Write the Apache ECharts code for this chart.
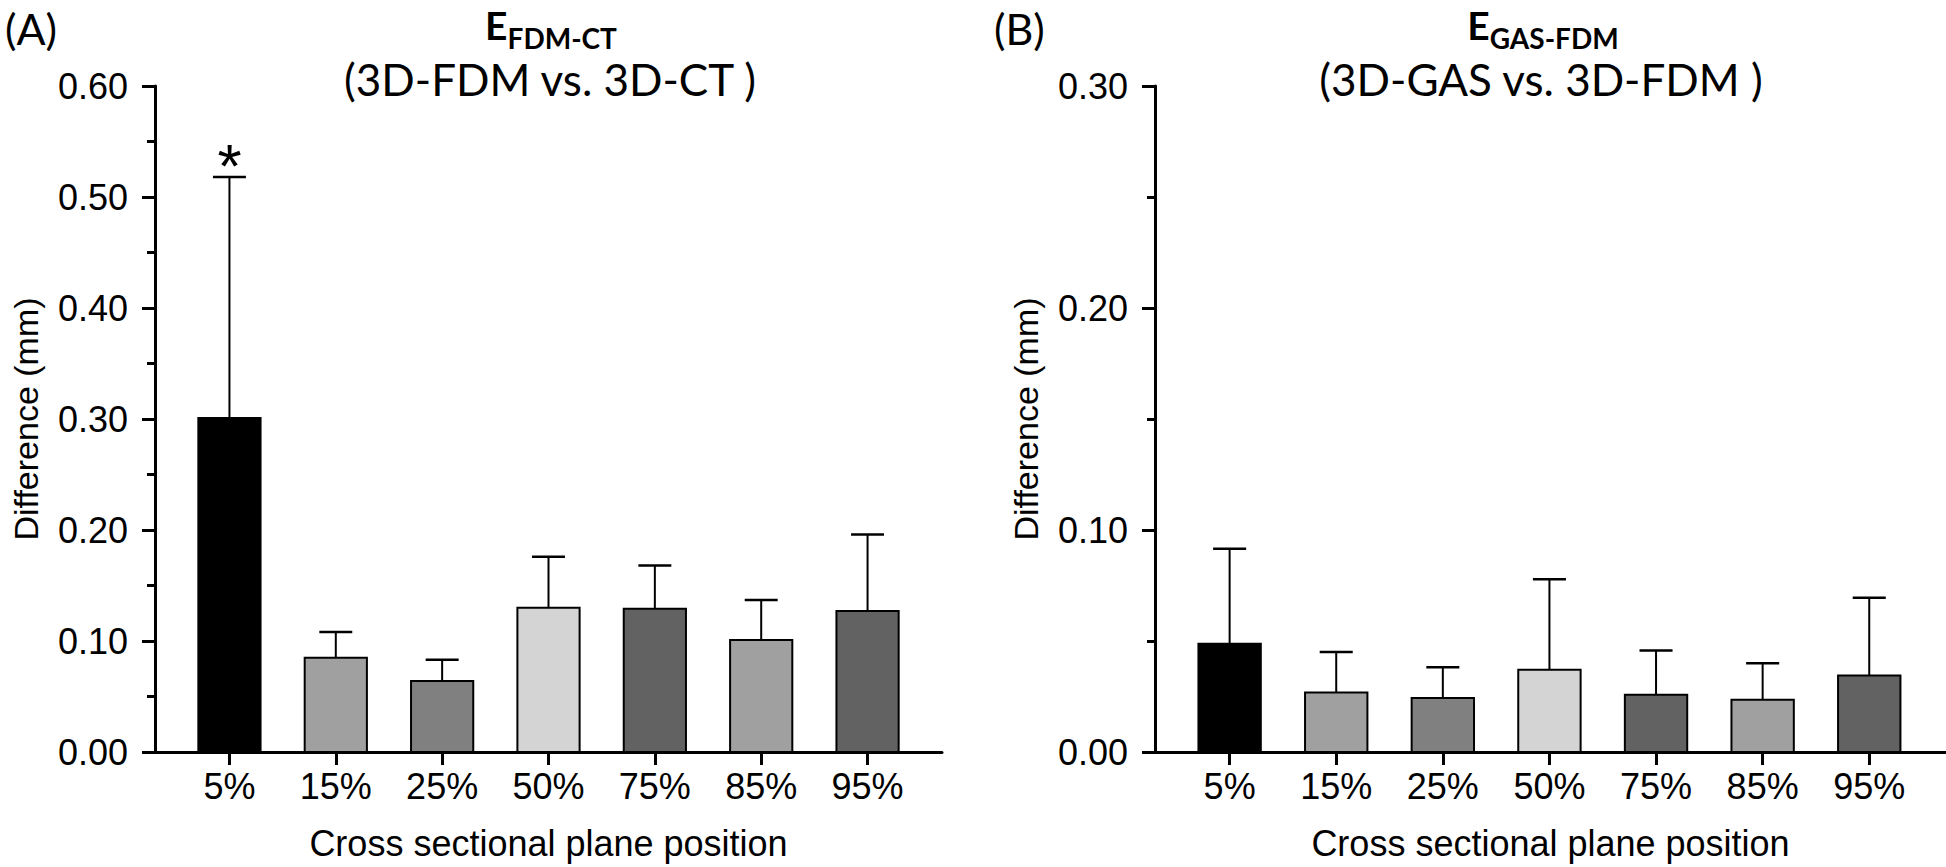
<!DOCTYPE html>
<html>
<head>
<meta charset="utf-8">
<script src="https://cdn.jsdelivr.net/npm/echarts@6/dist/echarts.min.js"></script>
<style>
html,body{margin:0;padding:0;background:#fff;}
#chart{width:1946px;height:867px;}
</style>
</head>
<body>
<div id="chart"></div>
<script>
// ---- data ----
const categories = ['5%', '15%', '25%', '50%', '75%', '85%', '95%'];
const barColors = ['#000000', '#a0a0a0', '#808080', '#d4d4d4', '#626262', '#a0a0a0', '#626262'];

// Panel A: E FDM-CT (3D-FDM vs. 3D-CT)
const meanA = [0.301, 0.085, 0.064, 0.130, 0.129, 0.101, 0.127];
const upperA = [0.518, 0.108, 0.083, 0.176, 0.168, 0.137, 0.196];
const sigA = ['*', '', '', '', '', '', ''];
const ticksA = [0, 0.1, 0.2, 0.3, 0.4, 0.5, 0.6];

// Panel B: E GAS-FDM (3D-GAS vs. 3D-FDM)
const meanB = [0.0488, 0.0268, 0.0243, 0.0370, 0.0258, 0.0235, 0.0345];
const upperB = [0.0915, 0.0450, 0.0382, 0.0778, 0.0457, 0.0400, 0.0695];
const sigB = ['', '', '', '', '', '', ''];
const ticksB = [0, 0.1, 0.2, 0.3];

const yName = 'Difference (mm)';
const xName = 'Cross sectional plane position';

// ---- chart ----
const chart = echarts.init(document.getElementById('chart'), null, {renderer: 'svg'});
const catIdx = categories.map((c, i) => i);
const numFont = 'Liberation Sans, Arial, sans-serif';
const titleFont = 'Lato, Noto Sans, sans-serif';

function rows(mean, upper) {
  return mean.map((m, i) => [i, m, upper[i]]);
}

function makeRender(colors, sig) {
  return function (params, api) {
    const i = api.value(0), v = api.value(1), top = api.value(2);
    const base = api.coord([i, 0]);
    const p = api.coord([i, v]);
    const e = api.coord([i, top]);
    const unit = api.size([1, 0])[0];
    const bw = unit * 0.585, cw = unit * 0.31;
    const children = [
      {type: 'line', shape: {x1: p[0], y1: p[1], x2: e[0], y2: e[1]}, style: {stroke: '#000', lineWidth: 2}},
      {type: 'line', shape: {x1: e[0] - cw / 2, y1: e[1], x2: e[0] + cw / 2, y2: e[1]}, style: {stroke: '#000', lineWidth: 2.5}},
      {type: 'rect', shape: {x: base[0] - bw / 2, y: p[1], width: bw, height: base[1] - p[1]},
        style: {fill: colors[params.dataIndex], stroke: '#000', lineWidth: 2}}
    ];
    const s = sig[params.dataIndex];
    if (s) {
      children.push({type: 'text', x: e[0], y: e[1] - 12,
        style: {text: s, fill: '#000', font: '62px ' + numFont, align: 'center', verticalAlign: 'middle'}});
    }
    return {type: 'group', children: children};
  };
}

function yAxis(gridIndex, max) {
  return {
    type: 'value', gridIndex: gridIndex, min: 0, max: max, interval: 0.1,
    name: yName, nameLocation: 'middle', nameGap: 112,
    nameTextStyle: {fontFamily: numFont, fontSize: 34, color: '#000'},
    axisLine: {show: true, onZero: false, lineStyle: {color: '#000', width: 3}},
    axisTick: {show: true, length: 13, lineStyle: {color: '#000', width: 3}},
    minorTick: {show: true, splitNumber: 2, length: 8, lineStyle: {color: '#000', width: 3}},
    splitLine: {show: false},
    axisLabel: {fontFamily: numFont, fontSize: 36, color: '#000', margin: 27,
      formatter: v => v.toFixed(2)}
  };
}

function xAxis(gridIndex, max) {
  return {
    type: 'value', gridIndex: gridIndex, min: -0.7, max: max,
    name: xName, nameLocation: 'middle', nameGap: 73,
    nameTextStyle: {fontFamily: numFont, fontSize: 36, color: '#000'},
    axisLine: {show: true, lineStyle: {color: '#000', width: 3}},
    axisTick: {show: true, customValues: catIdx, length: 13, lineStyle: {color: '#000', width: 3}},
    splitLine: {show: false},
    axisLabel: {customValues: catIdx, fontFamily: numFont, fontSize: 36, color: '#000', margin: 16,
      formatter: v => categories[Math.round(v)]}
  };
}

const richTitle = {
  e: {fontFamily: titleFont, fontSize: 39, fontWeight: 'bold', lineHeight: 39, verticalAlign: 'top', color: '#000'},
  s: {fontFamily: titleFont, fontSize: 28, fontWeight: 'bold', lineHeight: 28, verticalAlign: 'top', padding: [19, 0, 0, 0], color: '#000'}
};

const option = {
  backgroundColor: '#fff',
  animation: false,
  title: [
    {text: '(A)', left: 0, top: 2, textStyle: {fontFamily: titleFont, fontSize: 43, lineHeight: 43, fontWeight: 'normal', color: '#000'}},
    {text: '(B)', left: 989, top: 2, textStyle: {fontFamily: titleFont, fontSize: 43, lineHeight: 43, fontWeight: 'normal', color: '#000'}},
    {text: '{e|E}{s|FDM-CT}', left: 546, top: 0, textAlign: 'center', textStyle: {rich: richTitle}},
    {text: '(3D-FDM vs. 3D-CT )', left: 545, top: 52, textAlign: 'center',
      textStyle: {fontFamily: titleFont, fontSize: 44, fontWeight: 'normal', lineHeight: 44, color: '#000'}},
    {text: '{e|E}{s|GAS-FDM}', left: 1538, top: 0, textAlign: 'center', textStyle: {rich: richTitle}},
    {text: '(3D-GAS vs. 3D-FDM )', left: 1536, top: 52, textAlign: 'center',
      textStyle: {fontFamily: titleFont, fontSize: 44, fontWeight: 'normal', lineHeight: 44, color: '#000'}}
  ],
  grid: [
    {left: 155, top: 86, width: 787, height: 666},
    {left: 1155, top: 86, width: 791, height: 666}
  ],
  xAxis: [xAxis(0, 6.7), xAxis(1, 6.72)],
  yAxis: [yAxis(0, ticksA[ticksA.length - 1]), yAxis(1, ticksB[ticksB.length - 1])],
  series: [
    {type: 'custom', xAxisIndex: 0, yAxisIndex: 0, data: rows(meanA, upperA),
      encode: {x: 0, y: [1, 2]}, renderItem: makeRender(barColors, sigA), clip: false},
    {type: 'custom', xAxisIndex: 1, yAxisIndex: 1, data: rows(meanB, upperB),
      encode: {x: 0, y: [1, 2]}, renderItem: makeRender(barColors, sigB), clip: false}
  ]
};
chart.setOption(option);
</script>
</body>
</html>
